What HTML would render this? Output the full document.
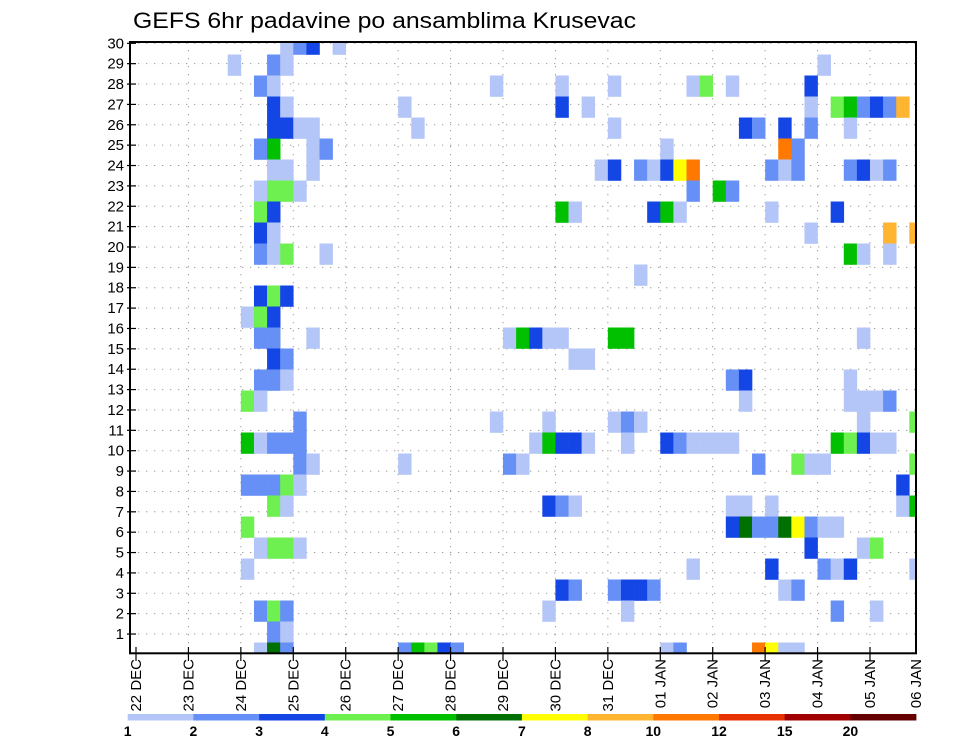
<!DOCTYPE html>
<html><head><meta charset="utf-8"><style>
html,body{margin:0;padding:0;background:#fff;}
svg{display:block;font-family:"Liberation Sans",sans-serif;}
</style></head><body>
<svg id="chart" width="960" height="742" viewBox="0 0 960 742" xmlns="http://www.w3.org/2000/svg">
<text x="133" y="28" font-size="22" fill="#000" textLength="503" lengthAdjust="spacingAndGlyphs">GEFS 6hr padavine po ansamblima Krusevac</text>
<defs><clipPath id="plotclip"><rect x="130" y="42" width="786" height="611.3"/></clipPath></defs>
<g id="grid"></g>
<g id="cells" clip-path="url(#plotclip)"></g>
<rect x="130" y="42" width="786" height="611.3" fill="none" stroke="#000" stroke-width="2"/>
<g id="yaxis"></g>
<g id="xaxis"></g>
<g id="legend"></g>
</svg>
<script>
// time index t = 6-hour steps from 22 DEC 00z; member = ensemble member (row)
const dayLabels = ["22 DEC","23 DEC","24 DEC","25 DEC","26 DEC","27 DEC","28 DEC","29 DEC","30 DEC","31 DEC","01 JAN","02 JAN","03 JAN","04 JAN","05 JAN","06 JAN"];
const memberTicks = [1,2,3,4,5,6,7,8,9,10,11,12,13,14,15,16,17,18,19,20,21,22,23,24,25,26,27,28,29,30];
const levelThresholds = [1,2,3,4,5,6,7,8,10,12,15,20];
const levelColors = ["#b4c6f8","#6690f5","#1446e6","#6ef050","#00c000","#007000","#ffff00","#ffb432","#ff7800","#e63200","#a00000","#640000"];

const cellTime = [
11,12,13,15,
7,10,11,52,
9,10,27,32,36,42,43,45,51,
10,11,20,32,34,51,53,54,55,56,57,58,
10,11,12,13,21,36,46,47,49,51,54,
9,10,13,14,40,49,50,
10,11,13,35,36,38,39,40,41,42,48,49,50,54,55,56,57,
9,10,11,12,42,44,45,
9,10,32,33,39,40,41,48,53,
9,10,51,57,59,
9,10,11,14,54,55,57,
38,
9,10,11,
8,9,10,
9,10,13,28,29,30,31,32,36,37,55,
10,11,33,34,
9,10,11,45,46,54,
8,9,46,54,55,56,57,
12,27,31,36,37,38,55,59,
8,9,10,11,12,30,31,32,33,34,37,40,41,42,43,44,45,53,54,55,56,57,
12,13,20,28,29,47,50,51,52,59,
8,9,10,11,12,58,
10,11,31,32,33,45,46,48,58,59,
8,45,46,47,48,49,50,51,52,53,
9,10,11,12,51,55,56,
8,42,48,52,53,54,59,
32,33,36,37,38,39,49,50,
9,10,11,31,37,53,56,
10,11,
9,10,11,20,21,22,23,24,40,41,47,48,49,50];
const cellMember = [
30,30,30,30,
29,29,29,29,
28,28,28,28,28,28,28,28,28,
27,27,27,27,27,27,27,27,27,27,27,27,
26,26,26,26,26,26,26,26,26,26,26,
25,25,25,25,25,25,25,
24,24,24,24,24,24,24,24,24,24,24,24,24,24,24,24,24,
23,23,23,23,23,23,23,
22,22,22,22,22,22,22,22,22,
21,21,21,21,21,
20,20,20,20,20,20,20,
19,
18,18,18,
17,17,17,
16,16,16,16,16,16,16,16,16,16,16,
15,15,15,15,
14,14,14,14,14,14,
13,13,13,13,13,13,13,
12,12,12,12,12,12,12,12,
11,11,11,11,11,11,11,11,11,11,11,11,11,11,11,11,11,11,11,11,11,11,
10,10,10,10,10,10,10,10,10,10,
9,9,9,9,9,9,
8,8,8,8,8,8,8,8,8,8,
7,7,7,7,7,7,7,7,7,7,
6,6,6,6,6,6,6,
5,5,5,5,5,5,5,
4,4,4,4,4,4,4,4,
3,3,3,3,3,3,3,
2,2,
1,1,1,1,1,1,1,1,1,1,1,1,1,1];
const cellValue = [
1,2,3,1,
1,2,1,1,
2,1,1,1,1,1,4,1,3,
3,1,1,3,1,1,4,5,2,3,2,8,
3,3,1,1,1,1,3,2,3,2,1,
2,5,1,2,1,10,2,
1,1,1,1,3,2,1,3,7,10,2,1,2,2,3,1,2,
1,4,4,1,2,5,2,
4,3,5,1,3,5,1,1,3,
3,1,1,8,8,
2,1,4,1,5,1,1,
1,
3,4,3,
1,4,3,
2,2,1,1,5,3,1,1,5,5,1,
3,2,1,1,
2,2,1,2,3,1,
4,1,1,1,1,1,2,
2,1,1,1,2,1,1,4,
5,1,2,2,2,1,5,3,3,1,1,3,2,1,1,1,1,5,4,3,1,1,
2,1,1,2,1,2,4,1,1,4,
2,2,2,4,1,3,
4,1,3,2,1,1,1,1,1,5,
4,3,6,2,2,6,7,2,1,1,
1,4,4,1,3,1,4,
1,1,3,2,1,3,1,
3,2,2,3,3,2,1,2,
2,4,2,1,1,2,1,
2,1,
1,6,2,2,5,4,3,2,1,2,10,7,1,1];

const NS = "http://www.w3.org/2000/svg";
const X0 = 136, STEP = 13.107, DAY = 52.428;
function xScale(t){ return X0 + t*STEP; }
function yCellTop(m){ return 33.5 + 21.0*(30-m); }
function yTick(k){ return 43.3 + 20.37*(30-k); }
function colorFor(v){ let c = null; for (let i=0;i<levelThresholds.length;i++){ if (v >= levelThresholds[i]) c = levelColors[i]; } return c; }
function mk(tag, attrs){ const e = document.createElementNS(NS, tag); for (const k in attrs) e.setAttribute(k, attrs[k]); return e; }

const grid = document.getElementById('grid');
for (let k=1;k<=30;k++){
  const l = mk('line',{x1:130,x2:916,y1:yTick(k),y2:yTick(k),stroke:'#999','stroke-width':1,'stroke-dasharray':'1.3,6.7'});
  
  
  grid.appendChild(l);
}
for (let d=1; d<15; d++){
  const x = X0 + d*DAY;
  const l = mk('line',{x1:x,x2:x,y1:42,y2:653,stroke:'#999','stroke-width':1,'stroke-dasharray':'1.3,6.7'});
  
  
  grid.appendChild(l);
}

const cells = document.getElementById('cells');
for (let i=0;i<cellTime.length;i++){
  const r = mk('rect',{x:xScale(cellTime[i]), y:yCellTop(cellMember[i]), width:STEP+0.3, height:21.3, fill:colorFor(cellValue[i])});
  
  
  cells.appendChild(r);
}

const yaxis = document.getElementById('yaxis');
memberTicks.forEach(k=>{
  const y = yTick(k);
  const tk = mk('line',{x1:127,x2:136,y1:y,y2:y,stroke:'#000','stroke-width':1.2});
  
  
  yaxis.appendChild(tk);
  const t = mk('text',{x:124,y:y+5,'font-size':15,'text-anchor':'end',fill:'#000'});
  t.textContent = k;
  
  
  yaxis.appendChild(t);
});

const xaxis = document.getElementById('xaxis');
dayLabels.forEach((lab,d)=>{
  const x = d < 15 ? X0 + d*DAY : 916;
  if (d < 15){
    const tk = mk('line',{x1:x,x2:x,y1:647,y2:661,stroke:'#000','stroke-width':1.2});
    
    
    xaxis.appendChild(tk);
  }
  const t = mk('text',{x:0,y:0,'font-size':15,'text-anchor':'end',fill:'#000',transform:'translate('+(x+5)+',659) rotate(-90)'});
  t.textContent = lab;
  
  
  xaxis.appendChild(t);
});

const legend = document.getElementById('legend');
const LX = 127.7, LW = 65.7;
levelThresholds.forEach((v,i)=>{
  const r = mk('rect',{x:LX+i*LW,y:714,width:LW+0.3,height:6.5,fill:levelColors[i]});
  
  
  legend.appendChild(r);
  const t = mk('text',{x:LX+i*LW,y:736,'font-size':14,'font-weight':'bold','text-anchor':'middle',fill:'#000'});
  t.textContent = v;
  
  
  legend.appendChild(t);
});
</script>
</body></html>
